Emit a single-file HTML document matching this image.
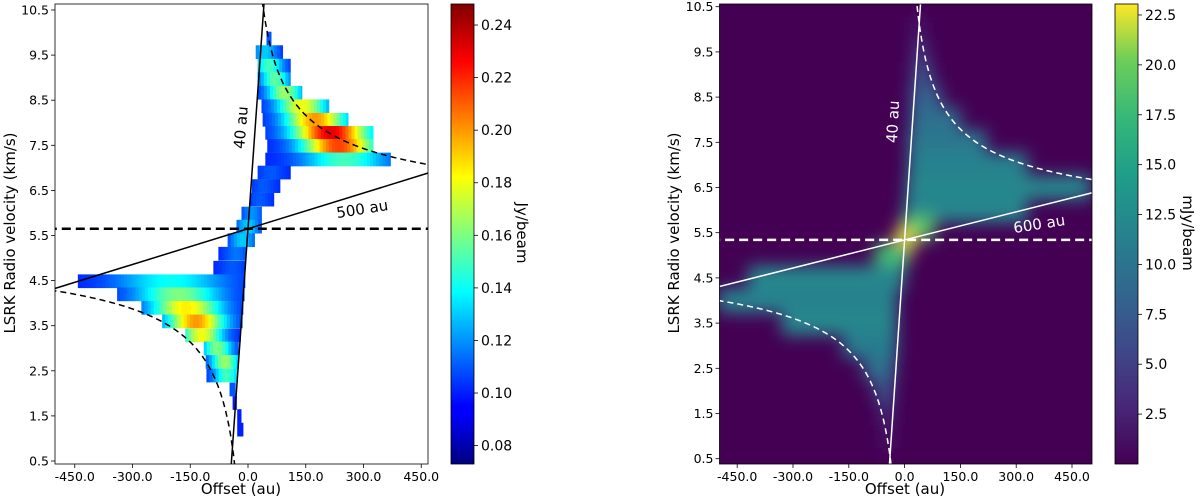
<!DOCTYPE html>
<html><head><meta charset="utf-8">
<style>
html,body{margin:0;padding:0;background:#fff;width:1200px;height:502px;overflow:hidden;}
svg{display:block;font-family:"DejaVu Sans","Liberation Sans",sans-serif;}
</style></head>
<body>
<svg id="fig" width="1200" height="502" viewBox="0 0 1200 502" xmlns="http://www.w3.org/2000/svg">
<defs>
<clipPath id="clipL"><rect x="55" y="4" width="373" height="460"/></clipPath>
<clipPath id="clipR"><rect x="719.5" y="4" width="372.5" height="460"/></clipPath>
<filter id="blurR" x="-10%" y="-10%" width="120%" height="120%"><feGaussianBlur stdDeviation="8"/></filter>
<linearGradient id="jetGrad" x1="0" y1="1" x2="0" y2="0">
<stop offset="0" stop-color="#000080"/><stop offset="0.11" stop-color="#0000ff"/><stop offset="0.125" stop-color="#0000ff"/>
<stop offset="0.375" stop-color="#00ffff"/><stop offset="0.625" stop-color="#ffff00"/><stop offset="0.875" stop-color="#ff0000"/><stop offset="1" stop-color="#800000"/>
</linearGradient>
<linearGradient id="virGrad" x1="0" y1="1" x2="0" y2="0">
<stop offset="0" stop-color="#440154"/><stop offset="0.13" stop-color="#482878"/><stop offset="0.25" stop-color="#3e4989"/><stop offset="0.38" stop-color="#31688e"/><stop offset="0.5" stop-color="#26828e"/><stop offset="0.63" stop-color="#1f9e89"/><stop offset="0.75" stop-color="#35b779"/><stop offset="0.88" stop-color="#6ece58"/><stop offset="1" stop-color="#fde725"/>
</linearGradient>
</defs>
<g id="left">
  <g id="cellsL" clip-path="url(#clipL)"></g>
  <g id="linesL" clip-path="url(#clipL)"></g>
  <rect x="55" y="4" width="373" height="460" fill="none" stroke="#000" stroke-width="0.8"/>
  <g id="ticksL"></g>
  <text x="241" y="494" font-size="15" text-anchor="middle">Offset (au)</text>
  <text transform="translate(15,233) rotate(-90)" font-size="15" text-anchor="middle">LSRK Radio velocity (km/s)</text>
  <text transform="translate(246,128) rotate(-85)" font-size="15" text-anchor="middle">40 au</text>
  <text transform="translate(363,214) rotate(-9)" font-size="15" text-anchor="middle">500 au</text>
  <rect x="451" y="4" width="23" height="460" fill="url(#jetGrad)" stroke="#000" stroke-width="0.8"/>
  <g id="cbL"></g>
  <text transform="translate(517,233) rotate(90)" font-size="15" text-anchor="middle">Jy/beam</text>
</g>
<g id="right">
  <rect x="719.5" y="4" width="372.5" height="460" fill="#440154"/>
  <g clip-path="url(#clipR)"><g id="cellsR" filter="url(#blurR)"></g></g>
  <g id="linesR" clip-path="url(#clipR)"></g>
  <rect x="719.5" y="4" width="372.5" height="460" fill="none" stroke="#000" stroke-width="0.8"/>
  <g id="ticksR"></g>
  <text x="905" y="494" font-size="15" text-anchor="middle">Offset (au)</text>
  <text transform="translate(679,233) rotate(-90)" font-size="15" text-anchor="middle">LSRK Radio velocity (km/s)</text>
  <text transform="translate(898,122) rotate(-87)" font-size="15" fill="#fff" text-anchor="middle">40 au</text>
  <text transform="translate(1040,229) rotate(-9)" font-size="15" fill="#fff" text-anchor="middle">600 au</text>
  <rect x="1115" y="4" width="23" height="460" fill="url(#virGrad)" stroke="#000" stroke-width="0.8"/>
  <g id="cbR"></g>
  <text transform="translate(1183,233) rotate(90)" font-size="15" text-anchor="middle">mJy/beam</text>
</g>
</svg>
<script>
// ---- data ----
const velTicks=[0.5,1.5,2.5,3.5,4.5,5.5,6.5,7.5,8.5,9.5,10.5];
const offTicks=[-450,-300,-150,0,150,300,450];
const cbTicksL=[0.08,0.10,0.12,0.14,0.16,0.18,0.20,0.22,0.24];
const cbTicksR=[2.5,5.0,7.5,10.0,12.5,15.0,17.5,20.0,22.5];
// left panel rows: channel velocity, extent min/max offset, peak offset, peak value (Jy/beam)
const rowVL=[9.87,9.57,9.27,8.97,8.67,8.37,8.07,7.78,7.49,7.19,6.90,6.60,6.30,5.99,5.70,5.40,5.10,4.79,4.49,4.20,3.90,3.60,3.29,3.00,2.70,2.40,2.09,1.79,1.50,1.20];
const xMinL=[48,20,25,25,25,35,38,45,50,45,25,10,5,-17,-30,-53,-77,-90,-442,-340,-277,-223,-163,-115,-110,-108,-48,-40,-28,-28];
const xMaxL=[60,90,110,110,140,210,260,325,325,370,110,83,67,35,35,17,-5,-8,-8,-10,-13,-15,-20,-25,-25,-30,-33,-30,-18,-13];
const peakXL=[55,45,55,70,95,140,175,215,235,250,60,40,30,10,0,-15,-30,-40,-200,-180,-160,-135,-120,-80,-60,-55,-40,-35,-23,-20];
const peakValL=[0.11,0.13,0.15,0.155,0.165,0.18,0.20,0.23,0.215,0.15,0.11,0.11,0.11,0.12,0.13,0.13,0.115,0.11,0.14,0.16,0.185,0.20,0.18,0.16,0.165,0.15,0.11,0.10,0.10,0.10];
// right panel rows: velocity, extent, mean value (mJy/beam)
const rowVR=[10.0,9.5,9.0,8.5,8.0,7.5,7.0,6.5,6.0,5.6,5.3,5.0,4.5,4.0,3.5,3.0,2.5,2.0,1.5,1.0,0.5];
const xMinR=[30,25,20,15,15,10,10,5,0,-10,-25,-80,-420,-500,-330,-165,-110,-80,-60,-50,-45];
const xMaxR=[45,60,75,100,150,220,330,500,330,80,25,10,0,-20,-20,-20,-25,-30,-35,-38,-40];
const valR=[4,5,6.5,8,9.5,10.5,11.5,12,12,19,23,18,12,11.5,12,11,9.5,7,5,4,3];
// model parameters
const vsysL=5.65, vsysR=5.34, keplerK=[30.8,30.0], slope40=[0.12,0.122], slopeOuter=[0.00264,0.00207];
// ---- axes ----
const yL=v=>10+(10.5-v)*45.1, xL=a=>248+a*0.385;
const yR=v=>6.7+(10.5-v)*45.2, xR=a=>904.6+a*0.372;
const NS="http://www.w3.org/2000/svg";
function mk(tag,attrs,parent){const e=document.createElementNS(NS,tag);for(const k in attrs)e.setAttribute(k,attrs[k]);parent.appendChild(e);return e;}
function lerpStops(stops,t){t=Math.max(0,Math.min(1,t));for(let i=1;i<stops.length;i++){if(t<=stops[i][0]){const a=stops[i-1],b=stops[i],f=(t-a[0])/(b[0]-a[0]||1);return 'rgb('+[0,1,2].map(j=>Math.round(a[1][j]+(b[1][j]-a[1][j])*f)).join(',')+')';}}const l=stops[stops.length-1][1];return 'rgb('+l.join(',')+')';}
const jet=[[0,[0,0,128]],[0.11,[0,0,255]],[0.125,[0,0,255]],[0.375,[0,255,255]],[0.625,[255,255,0]],[0.875,[255,0,0]],[1,[128,0,0]]];
const vir=[[0,[68,1,84]],[0.13,[72,40,120]],[0.25,[62,73,137]],[0.38,[49,104,142]],[0.5,[38,130,142]],[0.63,[31,158,137]],[0.75,[53,183,121]],[0.88,[110,206,88]],[1,[253,231,37]]];
// left heatmap cells
const cellsL=document.getElementById('cellsL');
const chW=0.295, cellAu=8;
rowVL.forEach((v,i)=>{
  const w=0.3*(xMaxL[i]-xMinL[i])+12;
  for(let a=xMinL[i];a<xMaxL[i];a+=cellAu){
    const a2=Math.min(a+cellAu,xMaxL[i]);const c=(a+a2)/2;
    const val=0.10+(peakValL[i]-0.10)*Math.exp(-Math.pow((c-peakXL[i])/w,2));
    const r=mk('rect',{x:xL(a),y:yL(v+chW/2),width:xL(a2)-xL(a)+0.4,height:yL(v-chW/2)-yL(v+chW/2)+0.4,fill:lerpStops(jet,(val-0.073)/(0.248-0.073))},cellsL);
    
    
  }
});
// right heatmap
const cellsR=document.getElementById('cellsR');
rowVR.forEach((v,i)=>{
  const r=mk('rect',{x:xR(xMinR[i]),y:yR(v+0.27),width:xR(xMaxR[i])-xR(xMinR[i]),height:yR(v-0.27)-yR(v+0.27),fill:lerpStops(vir,valR[i]/23.05)},cellsR);
  
  
});
// model lines
function lines(g,xf,yf,vs,k,s40,so,col,lw){
  const hl=mk('line',{x1:xf(-520),y1:yf(vs),x2:xf(520),y2:yf(vs),stroke:col,'stroke-width':lw+1,'stroke-dasharray':'9,5'},g);
  
  const l40=mk('line',{x1:xf(-50),y1:yf(vs-50*s40),x2:xf(50),y2:yf(vs+50*s40),stroke:col,'stroke-width':lw},g);
  
  const lo=mk('line',{x1:xf(-520),y1:yf(vs-520*so),x2:xf(520),y2:yf(vs+520*so),stroke:col,'stroke-width':lw},g);
  
  [1,-1].forEach(sg=>{let pts=[];for(let a=6;a<=520;a+=2){pts.push(xf(sg*a).toFixed(1)+','+yf(vs+sg*k/Math.sqrt(a)).toFixed(1));}
    const p=mk('polyline',{points:pts.join(' '),fill:'none',stroke:col,'stroke-width':lw,'stroke-dasharray':'6,4'},g);
    });
}
lines(document.getElementById('linesL'),xL,yL,vsysL,keplerK[0],slope40[0],slopeOuter[0],'#000',1.5);
lines(document.getElementById('linesR'),xR,yR,vsysR,keplerK[1],slope40[1],slopeOuter[1],'#fff',1.5);
// ticks
function ticks(g,xf,yf,x0,y1){
  velTicks.forEach(v=>{const y=yf(v);mk('line',{x1:x0-4,y1:y,x2:x0,y2:y,stroke:'#000','stroke-width':0.8},g);
    const t=mk('text',{x:x0-6,y:y+4.5,'font-size':12.5,'text-anchor':'end'},g);t.textContent=v.toFixed(1);
    });
  offTicks.forEach(a=>{const x=xf(a);mk('line',{x1:x,y1:y1,x2:x,y2:y1+4,stroke:'#000','stroke-width':0.8},g);
    const t=mk('text',{x:x,y:y1+17,'font-size':12.5,'text-anchor':'middle'},g);t.textContent=a.toFixed(1);
    });
}
ticks(document.getElementById('ticksL'),xL,yL,55,464);
ticks(document.getElementById('ticksR'),xR,yR,719.5,464);
function cbt(g,arr,x,yf,dec){arr.forEach(v=>{const y=yf(v);mk('line',{x1:x,y1:y,x2:x+4,y2:y,stroke:'#000','stroke-width':0.8},g);
  const t=mk('text',{x:x+7,y:y+5,'font-size':14},g);t.textContent=v.toFixed(dec);
  });}
cbt(document.getElementById('cbL'),cbTicksL,474,v=>464-(v-0.073)/(0.248-0.073)*460,2);
cbt(document.getElementById('cbR'),cbTicksR,1138,v=>464-v/23.05*460,1);
</script>
</body></html>
